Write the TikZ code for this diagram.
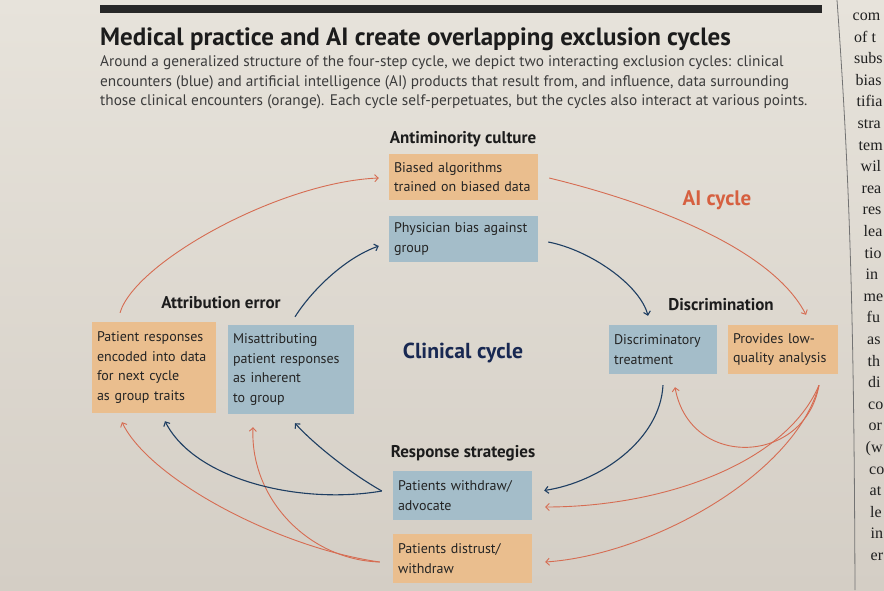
\documentclass[tikz,border=0pt]{standalone}
\usepackage{fontspec}
\setmainfont{PT Sans}
\newfontfamily\colserif{Liberation Serif}
\usetikzlibrary{arrows.meta,calc}
\definecolor{papertop}{RGB}{231,227,219}
\definecolor{paperbot}{RGB}{212,206,197}
\definecolor{orng}{RGB}{234,190,142}
\definecolor{blu}{RGB}{164,189,201}
\definecolor{navy}{RGB}{30,62,98}
\definecolor{redl}{RGB}{214,108,82}
\definecolor{aitext}{RGB}{214,96,64}
\definecolor{clintext}{RGB}{24,40,82}
\definecolor{ink}{RGB}{28,28,28}
\definecolor{subgray}{RGB}{60,60,60}
\definecolor{boxtext}{RGB}{36,36,36}
\tikzset{
  box/.style={inner xsep=5pt, inner ysep=0pt, align=left, text=boxtext,
    font=\fontsize{14}{19.5}\selectfont},
  obox/.style={box, fill=orng},
  bbox/.style={box, fill=blu},
  steplabel/.style={font=\fontsize{17}{20}\selectfont\bfseries, text=ink, inner sep=0pt},
  bluearrow/.style={draw=navy, line width=1.1pt, -{Straight Barb[length=3.5pt,width=7pt]}},
  redarrow/.style={draw=redl, line width=0.9pt, -{Straight Barb[length=3.5pt,width=7pt]}},
  coltext/.style={anchor=base west, inner sep=0pt, font=\colserif\fontsize{16}{19}\selectfont, text=black!88},
  subline/.style={anchor=base west, inner sep=0pt, text=subgray, font=\fontsize{15.3}{18}\selectfont}
}
\begin{document}
\begin{tikzpicture}[x=1pt,y=-1pt]
\useasboundingbox (0,0) rectangle (884,590);
\shade[top color=papertop, bottom color=paperbot] (0,0) rectangle (884,590);
% top rule
\fill[ink!95] (100,5) rectangle (822,13);
% column separator and neighbouring column
\draw[black!55, line width=0.8pt] (837,0) .. controls (850,180) and (854,320) .. (855,590);
\node[coltext] (c1) at (852.5,20.5) {com};
\node[coltext] (c2) at (854,42.1) {of t};
\node[coltext] (c3) at (854,63.7) {subs};
\node[coltext] (c4) at (855.5,85.3) {bias};
\node[coltext] (c5) at (856.5,106.9) {tifia};
\node[coltext] (c6) at (857.5,128.5) {stra};
\node[coltext] (c7) at (858.5,150.1) {tem};
\node[coltext] (c8) at (860.5,171.7) {wil};
\node[coltext] (c9) at (861.5,193.3) {rea};
\node[coltext] (c10) at (862.5,214.9) {res};
\node[coltext] (c11) at (863.5,236.5) {lea};
\node[coltext] (c12) at (864.5,258.1) {tio};
\node[coltext] (c13) at (865.5,279.7) {in};
\node[coltext] (c14) at (863.5,301.3) {me};
\node[coltext] (c15) at (866.5,322.9) {fu};
\node[coltext] (c16) at (867,344.5) {as};
\node[coltext] (c17) at (867.5,366.1) {th};
\node[coltext] (c18) at (868,387.7) {di};
\node[coltext] (c19) at (868,409.3) {co};
\node[coltext] (c20) at (868.5,430.9) {or};
\node[coltext] (c21) at (865.5,452.5) {(w};
\node[coltext] (c22) at (869,474.1) {co};
\node[coltext] (c23) at (869.5,495.7) {at};
\node[coltext] (c24) at (870,517.3) {le};
\node[coltext] (c25) at (870.5,538.9) {in};
\node[coltext] (c26) at (870.5,560.5) {er};
% title and subtitle
\node[anchor=base west, inner sep=0pt, text=ink, font=\fontsize{25}{28}\selectfont\bfseries] (title) at (100,45) {Medical practice and AI create overlapping exclusion cycles};
\node[subline] (sub1) at (100,66.5) {Around a generalized structure of the four-step cycle, we depict two interacting exclusion cycles: clinical};
\node[subline] (sub2) at (100,86) {encounters (blue) and artificial intelligence (AI) products that result from, and influence, data surrounding};
\node[subline] (sub3) at (100,105.5) {those clinical encounters (orange). Each cycle self-perpetuates, but the cycles also interact at various points.};
% step labels
\node[steplabel] (lab1) at (463,139) {Antiminority culture};
\node[steplabel] (lab2) at (221,303) {Attribution error};
\node[steplabel] (lab3) at (721,305) {Discrimination};
\node[steplabel] (lab4) at (463,453) {Response strategies};
\node[inner sep=0pt, text=clintext, font=\fontsize{21.7}{24}\selectfont\bfseries] (clin) at (463,353) {Clinical cycle};
\node[inner sep=0pt, text=aitext, font=\fontsize{21}{24}\selectfont\bfseries] (aic) at (717,200) {AI cycle};
% boxes
\node[obox, text width=139pt, minimum height=46pt] (bias) at (463.5,177) {Biased algorithms\\trained on biased data};
\node[bbox, text width=139pt, minimum height=46pt] (phys) at (463.5,239) {Physician bias against\\group};
\node[obox, text width=114pt, minimum height=91pt] (enc) at (154,367.5) {Patient responses\\encoded into data\\for next cycle\\as group traits};
\node[bbox, text width=116pt, minimum height=89pt] (mis) at (291,369.5) {Misattributing\\patient responses\\as inherent\\to group};
\node[bbox, text width=98pt, minimum height=49pt] (disc) at (663,349.5) {Discriminatory\\treatment};
\node[obox, text width=100pt, minimum height=49pt] (low) at (783,349.5) {Provides low-\\quality analysis};
\node[bbox, text width=129pt, minimum height=49pt] (wd) at (462.5,495.5) {Patients withdraw/\\advocate};
\node[obox, text width=129pt, minimum height=49pt] (dist) at (462.5,558.5) {Patients distrust/\\withdraw};
% AI cycle connectors
\draw[redarrow] ($(enc.north)+(-34,-9)$) .. controls (135,262) and (280,182) .. ($(bias.west)+(-10,1)$);
\draw[redarrow] ($(bias.east)+(11,1)$) .. controls (640,200) and (770,245) .. ($(low.north)+(23,-10)$);
\draw[redarrow] ($(low.south)+(36,11)$) .. controls (805,465) and (690,470) .. ($(disc.south)+(12,13)$);
\draw[redarrow] ($(low.south)+(36,11)$) .. controls (785,465) and (660,507) .. ($(wd.east)+(13,11.5)$);
\draw[redarrow] ($(low.south)+(36,11)$) .. controls (795,475) and (650,555) .. ($(dist.east)+(13,3.5)$);
\draw[redarrow] ($(dist.west)+(-13,3.5)$) .. controls (280,548) and (150,480) .. ($(enc.south)+(-32,9)$);
\draw[redarrow] ($(dist.west)+(-13,3.5)$) .. controls (310,560) and (250,500) .. ($(mis.south)+(-38,13)$);
% clinical cycle connectors
\draw[bluearrow] ($(mis.north)+(4,-8)$) .. controls (312,290) and (345,258) .. ($(phys.west)+(-10,7)$);
\draw[bluearrow] ($(phys.east)+(10,3)$) .. controls (590,250) and (640,285) .. ($(disc.north)+(-15,-9)$);
\draw[bluearrow] ($(disc.south)+(0,11)$) .. controls (660,440) and (600,482) .. ($(wd.east)+(12,-5)$);
\draw[bluearrow] ($(wd.west)+(-11,-4.5)$) .. controls (345,470) and (310,440) .. ($(mis.south)+(4,9)$);
\draw[bluearrow] ($(wd.west)+(-11,-4.5)$) .. controls (300,505) and (195,480) .. ($(enc.south)+(11,8)$);
\end{tikzpicture}
\end{document}
